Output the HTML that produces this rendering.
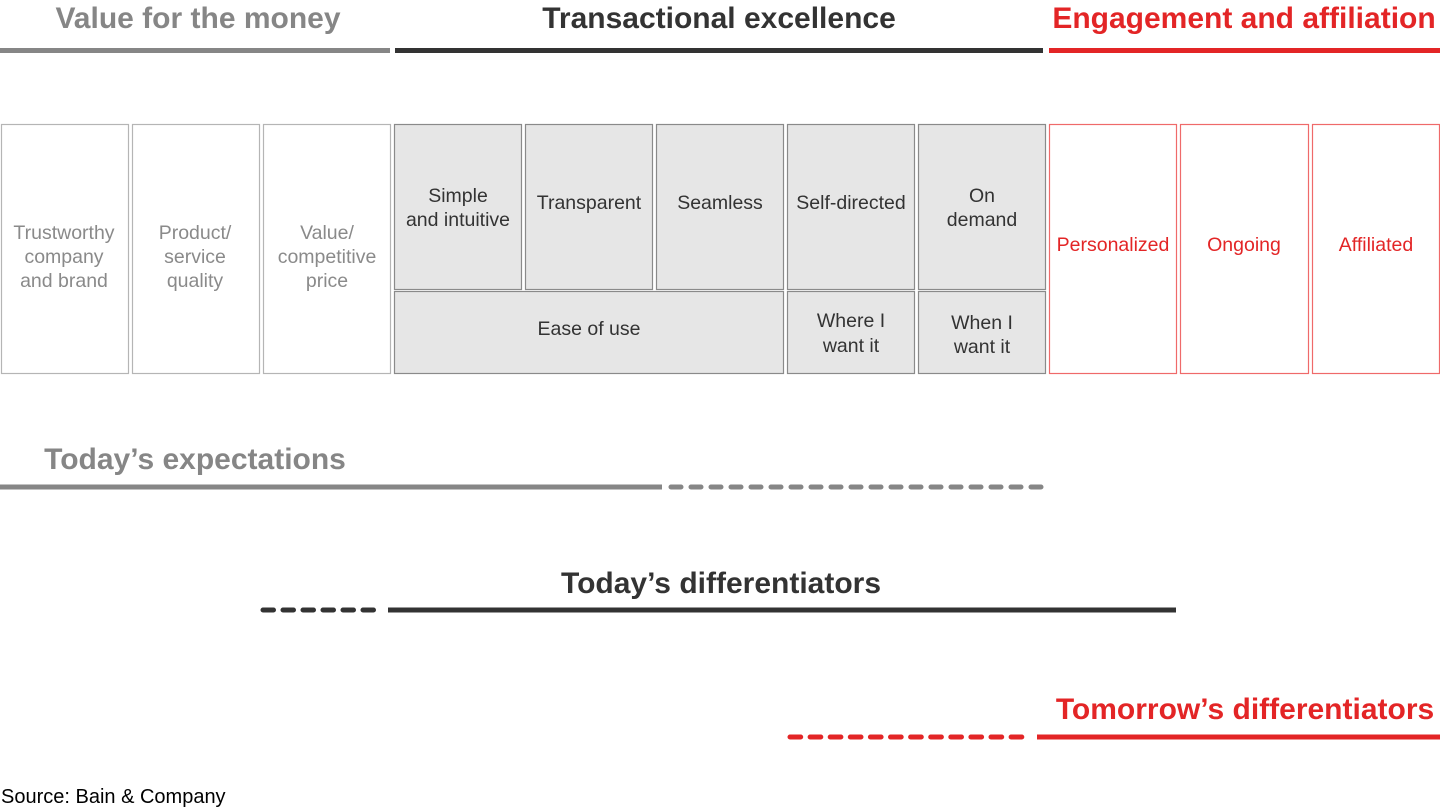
<!DOCTYPE html>
<html><head><meta charset="utf-8"><style>
html,body{margin:0;padding:0;background:#fff;width:1440px;height:810px;overflow:hidden}
svg text{font-family:"Liberation Sans",Arial,sans-serif}
</style></head><body>
<svg width="1440" height="810" viewBox="0 0 1440 810" xmlns="http://www.w3.org/2000/svg">
<g font-weight="bold" font-size="30" text-anchor="middle">
<text x="198" y="28" fill="#868686">Value for the money</text>
<text x="719" y="28" fill="#333">Transactional excellence</text>
<text x="1244" y="28" fill="#e32526">Engagement and affiliation</text>
</g>
<rect x="0" y="48" width="390" height="5" fill="#868686"/>
<rect x="395" y="48" width="648" height="5" fill="#333"/>
<rect x="1049" y="48" width="391" height="5" fill="#e32526"/>

<g fill="#fff" stroke="#b5b5b5" stroke-width="1.2">
<rect x="1.5" y="124.5" width="127" height="249"/>
<rect x="132.5" y="124.5" width="127" height="249"/>
<rect x="263.5" y="124.5" width="127" height="249"/>
</g>
<g fill="#e6e6e6" stroke="#8a8a8a" stroke-width="1.2">
<rect x="394.5" y="124.5" width="127" height="165"/>
<rect x="525.5" y="124.5" width="127" height="165"/>
<rect x="656.5" y="124.5" width="127" height="165"/>
<rect x="787.5" y="124.5" width="127" height="165"/>
<rect x="918.5" y="124.5" width="127" height="165"/>
<rect x="394.5" y="291.5" width="389" height="82"/>
<rect x="787.5" y="291.5" width="127" height="82"/>
<rect x="918.5" y="291.5" width="127" height="82"/>
</g>
<g fill="#fff" stroke="#ef6a6a" stroke-width="1.2">
<rect x="1049.5" y="124.5" width="127" height="249"/>
<rect x="1180.5" y="124.5" width="128" height="249"/>
<rect x="1312.5" y="124.5" width="127" height="249"/>
</g>

<g font-size="19.5" text-anchor="middle" fill="#8a8a8a">
<text x="64" y="239">Trustworthy</text><text x="64" y="263">company</text><text x="64" y="287">and brand</text>
<text x="195" y="239">Product/</text><text x="195" y="263">service</text><text x="195" y="287">quality</text>
<text x="327" y="239">Value/</text><text x="327" y="263">competitive</text><text x="327" y="287">price</text>
</g>
<g font-size="19.5" text-anchor="middle" fill="#333">
<text x="458" y="202">Simple</text><text x="458" y="226">and intuitive</text>
<text x="589" y="209">Transparent</text>
<text x="720" y="209">Seamless</text>
<text x="851" y="209">Self-directed</text>
<text x="982" y="202">On</text><text x="982" y="226">demand</text>
<text x="589" y="335">Ease of use</text>
<text x="851" y="327">Where I</text><text x="851" y="352">want it</text>
<text x="982" y="329">When I</text><text x="982" y="353">want it</text>
</g>
<g font-size="19.5" text-anchor="middle" fill="#e32526">
<text x="1113" y="251">Personalized</text>
<text x="1244" y="251">Ongoing</text>
<text x="1376" y="251">Affiliated</text>
</g>

<text x="195" y="469" font-size="30" font-weight="bold" fill="#868686" text-anchor="middle">Today’s expectations</text>
<rect x="0" y="484.5" width="662" height="5" fill="#868686"/>
<line x1="671" y1="487" x2="1043" y2="487" stroke="#868686" stroke-width="5" stroke-linecap="round" stroke-dasharray="10 10"/>

<text x="721" y="593" font-size="30" font-weight="bold" fill="#333" text-anchor="middle">Today’s differentiators</text>
<line x1="263" y1="610" x2="382" y2="610" stroke="#333" stroke-width="5" stroke-linecap="round" stroke-dasharray="10.5 9.5"/>
<rect x="388" y="607.5" width="788" height="5" fill="#333"/>

<text x="1245" y="719" font-size="30" font-weight="bold" fill="#e32526" text-anchor="middle">Tomorrow’s differentiators</text>
<line x1="790" y1="737" x2="1030" y2="737" stroke="#e32526" stroke-width="5" stroke-linecap="round" stroke-dasharray="10.7 9.4"/>
<rect x="1037" y="734.5" width="403" height="5" fill="#e32526"/>

<text x="1" y="803" font-size="20" fill="#000">Source: Bain &amp; Company</text>
</svg>
</body></html>
